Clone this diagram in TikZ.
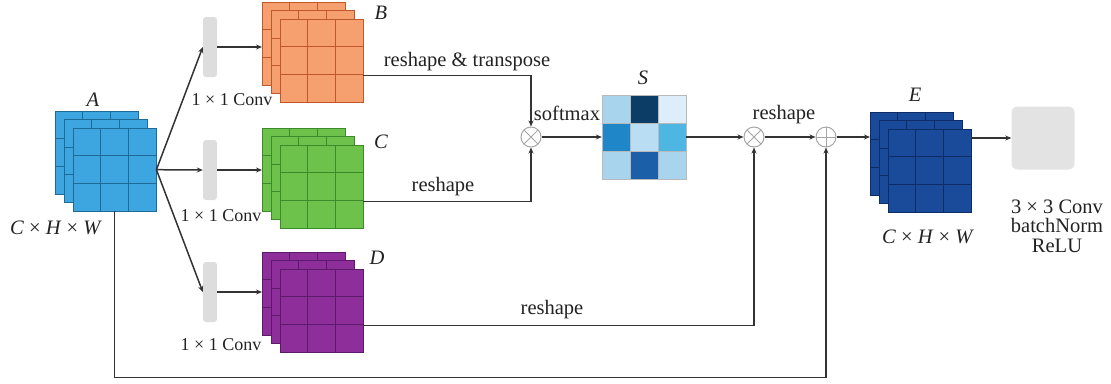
\documentclass[tikz,border=0pt]{standalone}
\usepackage{fontspec}
\setmainfont{Liberation Serif}
\usetikzlibrary{arrows.meta,calc}
\definecolor{cA}{HTML}{3DA5DF}\definecolor{lA}{HTML}{1E6A99}
\definecolor{cB}{HTML}{F5A06E}\definecolor{lB}{HTML}{C0582A}
\definecolor{cC}{HTML}{6CC24A}\definecolor{lC}{HTML}{3D8A2A}
\definecolor{cD}{HTML}{8E2E9A}\definecolor{lD}{HTML}{5E1A6A}
\definecolor{cE}{HTML}{1A4B9B}\definecolor{lE}{HTML}{0E2C66}
\definecolor{barc}{HTML}{DDDDDD}\definecolor{boxc}{HTML}{E3E3E3}
\definecolor{linec}{HTML}{333333}
\definecolor{txtc}{HTML}{222222}
\definecolor{s1}{HTML}{A8D4EE}\definecolor{s2}{HTML}{0B3D66}\definecolor{s3}{HTML}{DCEEF9}
\definecolor{s4}{HTML}{1F86C8}\definecolor{s5}{HTML}{B9DDF2}\definecolor{s6}{HTML}{4DB6E3}
\definecolor{s8}{HTML}{1A5FA8}
\newcommand\fmstack[5]{%
  \foreach \k in {2,1,0}{%
    \pgfmathsetmacro\ox{#2-9*\k}\pgfmathsetmacro\oy{#3-8.5*\k}%
    \draw[fill=#4,draw=#5,line width=1pt] (\ox,\oy) rectangle ++(83,83);
    \draw[draw=#5,line width=0.7pt] (\ox+27.7,\oy) -- ++(0,83) (\ox+55.3,\oy) -- ++(0,83)
      (\ox,\oy+27.7) -- ++(83,0) (\ox,\oy+55.3) -- ++(83,0);
  }%
  \node[inner sep=0,minimum size=83pt,anchor=north west] (#1) at (#2,#3) {};
  \node[inner sep=0,minimum size=83pt,anchor=north west] (#1back) at (#2-18,#3-17) {};
}
\begin{document}
\begin{tikzpicture}[x=1pt,y=-1pt,
  every node/.style={font=\fontsize{20.5}{19.5}\selectfont,text=txtc},
  convlab/.style={font=\fontsize{18}{20}\selectfont},
  bar/.style={fill=barc,draw=none,rounded corners=3pt,minimum width=14pt,minimum height=60pt,inner sep=0pt},
  conn/.style={draw=linec,line width=1.5pt},
  arr/.style={conn,-{Stealth[length=6pt,width=5pt]}},
  opx/.style={circle,draw=gray!70,line width=1pt,fill=white,minimum size=20pt,inner sep=0pt,
    path picture={\draw[gray!70,line width=1pt] (path picture bounding box.north west)--(path picture bounding box.south east)
      (path picture bounding box.north east)--(path picture bounding box.south west);}},
  opp/.style={circle,draw=gray!70,line width=1pt,fill=white,minimum size=20pt,inner sep=0pt,
    path picture={\draw[gray!70,line width=1pt] (path picture bounding box.north)--(path picture bounding box.south)
      (path picture bounding box.east)--(path picture bounding box.west);}},
  lab/.style={inner sep=1pt}
]
\useasboundingbox (0,0) rectangle (1111,383);
% stacks
\fmstack{A}{73}{128}{cA}{lA}
\fmstack{B}{280}{19}{cB}{lB}
\fmstack{C}{280}{145}{cC}{lC}
\fmstack{D}{280}{269}{cD}{lD}
\fmstack{E}{888}{129}{cE}{lE}
% conv bars
\node[bar] (c1) at (210,47) {};
\node[bar] (c2) at (210,170) {};
\node[bar] (c3) at (210,292) {};
% S matrix
\node[inner sep=0,minimum size=84pt] (S) at (644,137) {};
\fill[s1] (602,95) rectangle ++(28,28);
\fill[s2] (630,95) rectangle ++(28,28);
\fill[s3] (658,95) rectangle ++(28,28);
\fill[s4] (602,123) rectangle ++(28,28);
\fill[s5] (630,123) rectangle ++(28,28);
\fill[s6] (658,123) rectangle ++(28,28);
\fill[s1] (602,151) rectangle ++(28,28);
\fill[s8] (630,151) rectangle ++(28,28);
\fill[s1] (658,151) rectangle ++(28,28);
\draw[gray!55,line width=0.8pt] (602,95) rectangle (686,179)
  (630,95) -- (630,179) (658,95) -- (658,179) (602,123) -- (686,123) (602,151) -- (686,151);
% operators
\node[opx] (m1) at (531,137) {};
\node[opx] (m2) at (754,137) {};
\node[opp] (p1) at (826,137) {};
% final box
\node[fill=boxc,rounded corners=6pt,minimum width=63pt,minimum height=63pt,inner sep=0] (box) at (1043,138) {};
% connectors
\draw[arr] (A.east) -- (c1.west);
\draw[arr] (A.east) -- (c2.west);
\draw[arr] (A.east) -- (c3.west);
\draw[arr] (c1.east) -- (c1.east -| Bback.west);
\draw[arr] (c2.east) -- (c2.east -| Cback.west);
\draw[arr] (c3.east) -- (c3.east -| Dback.west);
\draw[arr] ($(B.east)+(0,15)$) -| (m1.north);
\draw[arr] ($(C.east)+(0,15)$) -| (m1.south);
\draw[arr] ($(D.east)+(0,15)$) -| (m2.south);
\draw[arr] (m1.east) -- (S.west);
\draw[arr] (S.east) -- (m2.west);
\draw[arr] (m2.east) -- (p1.west);
\draw[arr] (A.south) -- ++(0,166) -| (p1.south);
\draw[arr] (p1.east) -- (p1.east -| Eback.west);
\draw[arr] (box.west -| E.east) -- (box.west);
% labels
\node[lab] (tA) at (93,100) {\textit{A}};
\node[lab] (dA) at (56,228) {\textit{C} × \textit{H} × \textit{W}};
\node[lab] (tB) at (381,13) {\textit{B}};
\node[lab] (tC) at (381,142) {\textit{C}};
\node[lab] (tD) at (377,258) {\textit{D}};
\node[lab] (tS) at (643,78) {\textit{S}};
\node[lab] (tE) at (915,95) {\textit{E}};
\node[lab] (dE) at (928,237) {\textit{C} × \textit{H} × \textit{W}};
\node[lab,convlab] (k1) at (232,100) {1 × 1 Conv};
\node[lab,convlab] (k2) at (221,216) {1 × 1 Conv};
\node[lab,convlab] (k3) at (221,345) {1 × 1 Conv};
\node[lab] (r1) at (467,62) {reshape \& transpose};
\node[lab] (r2) at (443,187) {reshape};
\node[lab] (sm) at (567,113) {softmax};
\node[lab] (r3) at (784,115) {reshape};
\node[lab] (r4) at (552,310) {reshape};
\node[lab,align=center] (bt) at (1057,226) {3 × 3 Conv\\batchNorm\\ReLU};
\end{tikzpicture}
\end{document}
